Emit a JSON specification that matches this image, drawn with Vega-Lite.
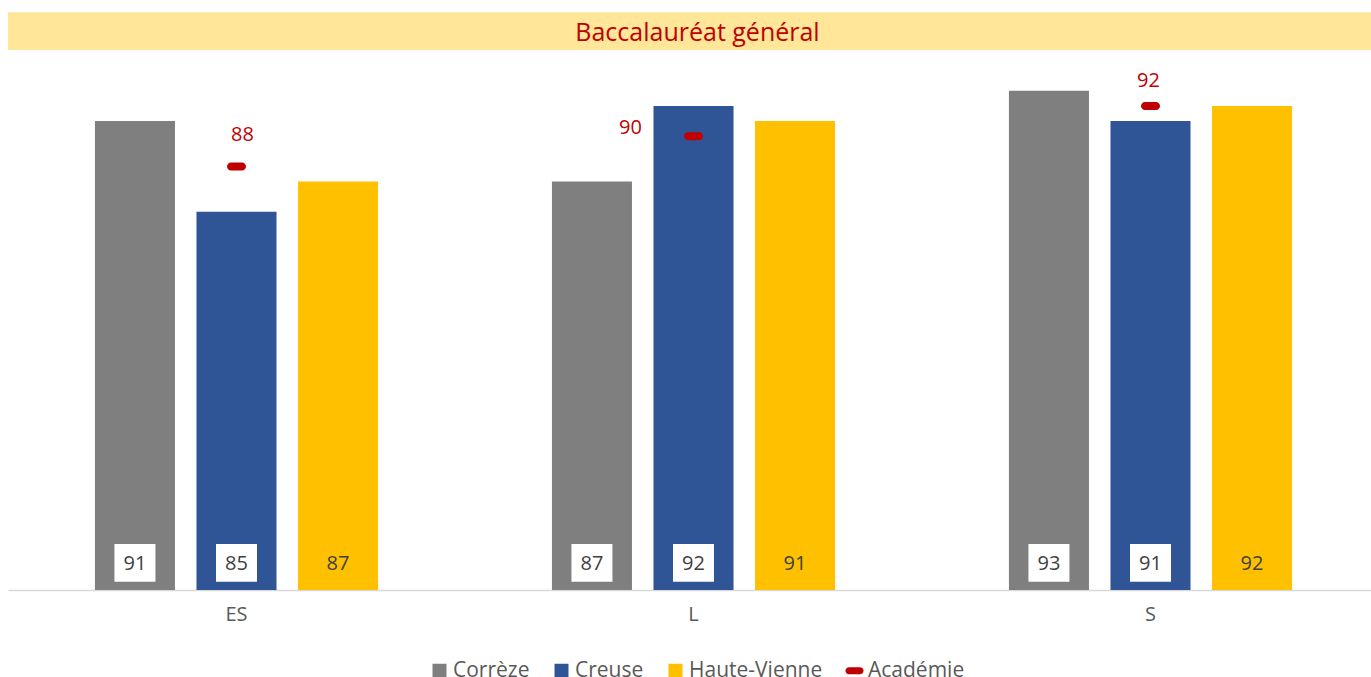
{
  "$schema": "https://vega.github.io/schema/vega-lite/v6.json",
  "width": 1363,
  "height": 540,
  "autosize": {"type": "none"},
  "padding": {"left": 8, "top": 50, "right": 0, "bottom": 87},
  "background": "white",
  "config": {"view": {"stroke": null}, "font": "Open Sans"},
  "datasets": {
    "bars": [
      {"filiere": "ES", "departement": "Corrèze", "taux": 91},
      {"filiere": "ES", "departement": "Creuse", "taux": 85},
      {"filiere": "ES", "departement": "Haute-Vienne", "taux": 87},
      {"filiere": "L", "departement": "Corrèze", "taux": 87},
      {"filiere": "L", "departement": "Creuse", "taux": 92},
      {"filiere": "L", "departement": "Haute-Vienne", "taux": 91},
      {"filiere": "S", "departement": "Corrèze", "taux": 93},
      {"filiere": "S", "departement": "Creuse", "taux": 91},
      {"filiere": "S", "departement": "Haute-Vienne", "taux": 92}
    ],
    "academie": [
      {"filiere": "ES", "serie": "Académie", "taux": 88},
      {"filiere": "L", "serie": "Académie", "taux": 90},
      {"filiere": "S", "serie": "Académie", "taux": 92}
    ]
  },
  "layer": [
    {
      "data": {"values": [{"titre": "Baccalauréat général"}]},
      "mark": {"type": "rect", "color": "#FFE699"},
      "encoding": {
        "y": {"datum": 95.7, "type": "quantitative", "scale": {"domain": [60, 95.7]}, "axis": null},
        "y2": {"datum": 98.2}
      }
    },
    {
      "data": {"values": [{"titre": "Baccalauréat général"}]},
      "mark": {"type": "text", "color": "#C00000", "fontSize": 25, "baseline": "middle", "align": "center", "dx": 8},
      "encoding": {
        "y": {"datum": 96.85, "type": "quantitative", "scale": {"domain": [60, 95.7]}, "axis": null},
        "text": {"field": "titre"}
      }
    },
    {
      "data": {"name": "bars"},
      "mark": {"type": "bar"},
      "encoding": {
        "x": {
          "field": "filiere", "type": "nominal",
          "scale": {"range": [0, 1371], "paddingInner": 0, "paddingOuter": 0},
          "axis": {"title": null, "ticks": false, "labelAngle": 0, "labelFontSize": 20, "labelColor": "#595959", "labelPadding": 14, "domainColor": "#D9D9D9", "domainWidth": 1.5}
        },
        "xOffset": {
          "field": "departement", "type": "nominal",
          "scale": {"domain": ["Corrèze", "Creuse", "Haute-Vienne"], "paddingInner": 0.212, "paddingOuter": 0.856}
        },
        "y": {"field": "taux", "type": "quantitative", "scale": {"domain": [60, 95.7]}, "axis": null},
        "y2": {"datum": 60},
        "color": {
          "field": "departement", "type": "nominal",
          "scale": {"domain": ["Corrèze", "Creuse", "Haute-Vienne", "Académie"], "range": ["#7F7F7F", "#2F5597", "#FFC000", "#C00000"]},
          "legend": {
            "title": null, "orient": "none", "legendX": 421, "legendY": 610, "direction": "horizontal",
            "labelFontSize": 21, "labelColor": "#595959", "symbolSize": 196, "symbolType": "square",
            "labelOffset": 3, "columnPadding": 21, "symbolStrokeWidth": 0, "padding": 0,
            "encode": {
              "symbols": {
                "update": {
                  "shape": {"signal": "datum.value === 'Académie' ? 'M-0.79,-0.5H0.79A0.5,0.5 0 0 1 0.79,0.5H-0.79A0.5,0.5 0 0 1 -0.79,-0.5Z' : 'square'"},
                  "opacity": {"value": 1}
                }
              }
            }
          }
        }
      }
    },
    {
      "data": {"name": "bars"},
      "transform": [{"filter": "datum.departement !== 'Haute-Vienne'"}],
      "mark": {"type": "point", "shape": "M-1,-0.92H1V0.92H-1Z", "filled": true, "color": "white", "opacity": 1, "size": 1681, "strokeWidth": 0},
      "encoding": {
        "x": {"field": "filiere", "type": "nominal"},
        "xOffset": {"field": "departement", "type": "nominal"},
        "y": {"datum": 61.8, "type": "quantitative", "scale": {"domain": [60, 95.7]}, "axis": null}
      }
    },
    {
      "data": {"name": "bars"},
      "mark": {"type": "text", "color": "#404040", "fontSize": 20, "baseline": "middle"},
      "encoding": {
        "x": {"field": "filiere", "type": "nominal"},
        "xOffset": {"field": "departement", "type": "nominal"},
        "y": {"datum": 61.72, "type": "quantitative", "scale": {"domain": [60, 95.7]}, "axis": null},
        "text": {"field": "taux", "type": "quantitative"}
      }
    },
    {
      "data": {"name": "academie"},
      "mark": {"type": "tick", "thickness": 8, "size": 19, "cornerRadius": 4, "opacity": 1},
      "encoding": {
        "x": {"field": "filiere", "type": "nominal"},
        "xOffset": {"datum": "Creuse", "type": "nominal"},
        "y": {"field": "taux", "type": "quantitative", "scale": {"domain": [60, 95.7]}, "axis": null},
        "color": {"field": "serie", "type": "nominal"}
      }
    },
    {
      "data": {"name": "academie"},
      "transform": [{"filter": "datum.filiere === 'ES'"}],
      "mark": {"type": "text", "color": "#C00000", "fontSize": 20, "baseline": "middle", "dx": 6, "dy": -31},
      "encoding": {
        "x": {"field": "filiere", "type": "nominal"},
        "xOffset": {"datum": "Creuse", "type": "nominal"},
        "y": {"field": "taux", "type": "quantitative", "scale": {"domain": [60, 95.7]}, "axis": null},
        "text": {"field": "taux", "type": "quantitative"}
      }
    },
    {
      "data": {"name": "academie"},
      "transform": [{"filter": "datum.filiere === 'L'"}],
      "mark": {"type": "text", "color": "#C00000", "fontSize": 20, "baseline": "middle", "dx": -63, "dy": -8},
      "encoding": {
        "x": {"field": "filiere", "type": "nominal"},
        "xOffset": {"datum": "Creuse", "type": "nominal"},
        "y": {"field": "taux", "type": "quantitative", "scale": {"domain": [60, 95.7]}, "axis": null},
        "text": {"field": "taux", "type": "quantitative"}
      }
    },
    {
      "data": {"name": "academie"},
      "transform": [{"filter": "datum.filiere === 'S'"}],
      "mark": {"type": "text", "color": "#C00000", "fontSize": 20, "baseline": "middle", "dx": -2, "dy": -25},
      "encoding": {
        "x": {"field": "filiere", "type": "nominal"},
        "xOffset": {"datum": "Creuse", "type": "nominal"},
        "y": {"field": "taux", "type": "quantitative", "scale": {"domain": [60, 95.7]}, "axis": null},
        "text": {"field": "taux", "type": "quantitative"}
      }
    }
  ]
}
